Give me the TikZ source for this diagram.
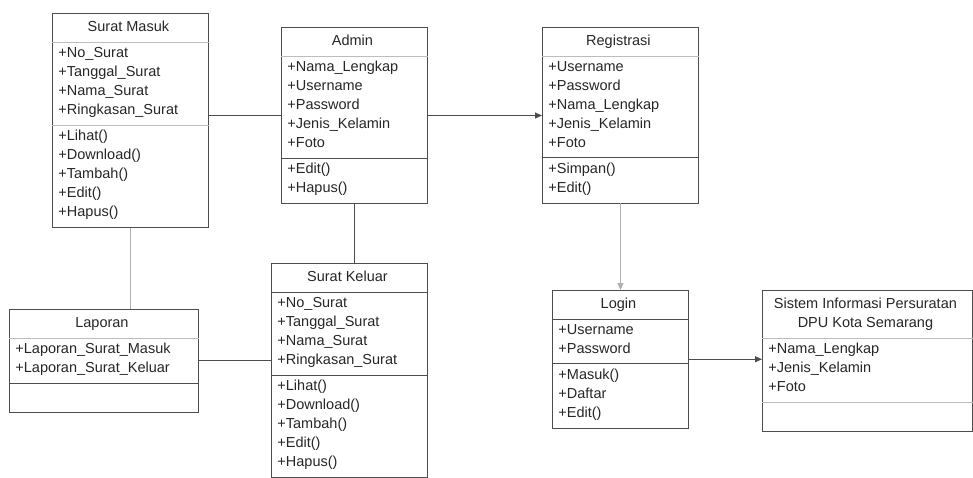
\documentclass[tikz,border=0pt]{standalone}
\usepackage{fontspec}
\setmainfont{Liberation Sans}
\usepackage{tikz}
\usetikzlibrary{shapes}
\usetikzlibrary{arrows.meta}

\definecolor{umlline}{HTML}{4D4D4D}
\definecolor{umltext}{HTML}{262626}
\definecolor{umlsplit}{HTML}{BDBDBD}
\definecolor{umlfaint}{HTML}{B0B0B0}

\tikzset{
  umlclass/.style={rectangle split, rectangle split parts=3,
    rectangle split part align={center,left,left},
    rectangle split draw splits=false,
    rectangle split ignore empty parts=false,
    rectangle split empty part height=13.3pt,
    rectangle split empty part depth=5.7pt,
    draw=umlline, line width=0.9pt, anchor=north west, align=left,
    inner xsep=6pt, inner ysep=4.5pt, text=umltext,
    font=\fontsize{14.5}{19}\selectfont,
    execute at begin node=\strut, execute at end node=\strut},
  assoc/.style={draw=umlline, line width=0.9pt},
  assocarrow/.style={assoc, -{Triangle[length=7pt,width=6pt]}},
}

\begin{document}
\begin{tikzpicture}[x=1pt,y=-1pt]
\clip (0,0) rectangle (973,477);

\node (SM) at (52,13) [umlclass, minimum width=156pt] {Surat Masuk
  \nodepart{two}+No\_Surat\\+Tanggal\_Surat\\+Nama\_Surat\\+Ringkasan\_Surat
  \nodepart{three}+Lihat()\\+Download()\\+Tambah()\\+Edit()\\+Hapus()};
\node (Admin) at (281,27) [umlclass, minimum width=146pt] {Admin
  \nodepart{two}+Nama\_Lengkap\\+Username\\+Password\\+Jenis\_Kelamin\\+Foto
  \nodepart{three}+Edit()\\+Hapus()};
\node (Reg) at (542,27) [umlclass, minimum width=156pt] {Registrasi
  \nodepart{two}+Username\\+Password\\+Nama\_Lengkap\\+Jenis\_Kelamin\\+Foto
  \nodepart{three}+Simpan()\\+Edit()};
\node (SK) at (271,263) [umlclass, minimum width=156pt] {Surat Keluar
  \nodepart{two}+No\_Surat\\+Tanggal\_Surat\\+Nama\_Surat\\+Ringkasan\_Surat
  \nodepart{three}+Lihat()\\+Download()\\+Tambah()\\+Edit()\\+Hapus()};
\node (Lap) at (9,309) [umlclass, minimum width=189pt] {Laporan
  \nodepart{two}+Laporan\_Surat\_Masuk\\+Laporan\_Surat\_Keluar
  \nodepart{three}};
\node (Login) at (552,290) [umlclass, minimum width=136pt] {Login
  \nodepart{two}+Username\\+Password
  \nodepart{three}+Masuk()\\+Daftar\\+Edit()};
\node (SI) at (762,290) [umlclass, minimum width=210pt] {\begin{tabular}{@{}c@{}}Sistem Informasi Persuratan\\DPU Kota Semarang\end{tabular}
  \nodepart{two}+Nama\_Lengkap\\+Jenis\_Kelamin\\+Foto
  \nodepart{three}};

\draw [umlsplit, line width=0.9pt] (SM.text split west) -- (SM.text split east);
\draw [umlsplit, line width=0.9pt] (SM.two split west) -- (SM.two split east);
\draw [umlsplit, line width=0.9pt] (Admin.text split west) -- (Admin.text split east);
\draw [umlline, line width=0.9pt] (Admin.two split west) -- (Admin.two split east);
\draw [umlsplit, line width=0.9pt] (Reg.text split west) -- (Reg.text split east);
\draw [umlline, line width=0.9pt] (Reg.two split west) -- (Reg.two split east);
\draw [umlline, line width=0.9pt] (SK.text split west) -- (SK.text split east);
\draw [umlline, line width=0.9pt] (SK.two split west) -- (SK.two split east);
\draw [umlsplit, line width=0.9pt] (Lap.text split west) -- (Lap.text split east);
\draw [umlline, line width=0.9pt] (Lap.two split west) -- (Lap.two split east);
\draw [umlline, line width=0.9pt] (Login.text split west) -- (Login.text split east);
\draw [umlline, line width=0.9pt] (Login.two split west) -- (Login.two split east);
\draw [umlsplit, line width=0.9pt] (SI.text split west) -- (SI.text split east);
\draw [umlsplit, line width=0.9pt] (SI.two split west) -- (SI.two split east);

\draw [assoc] (Admin.west) -- (Admin.west -| SM.east);
\draw [assocarrow] (Admin.east) -- (Admin.east -| Reg.west);
\draw [assoc] (Admin.south) -- (Admin.south |- SK.north);
\draw [assoc, draw=umlfaint] (SM.south) -- (SM.south |- Lap.north);
\draw [assoc] (Lap.east) -- (Lap.east -| SK.west);
\draw [assocarrow, draw=umlfaint, fill=umlline] (Reg.south) -- (Reg.south |- Login.north);
\draw [assocarrow] (Login.east) -- (Login.east -| SI.west);
\end{tikzpicture}
\end{document}
